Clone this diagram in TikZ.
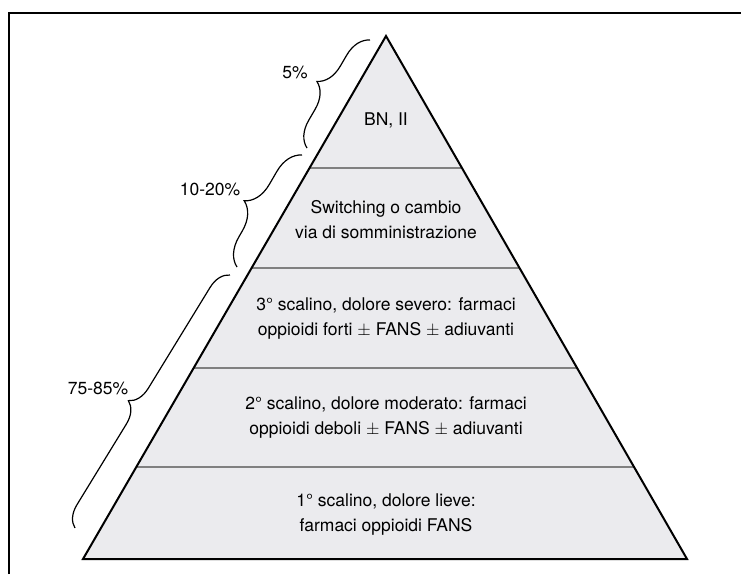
\documentclass[tikz,border=0pt]{standalone}
\usepackage{fontspec}
\setmainfont{TeX Gyre Heros}
\usetikzlibrary{positioning}
\usetikzlibrary{calc,decorations.pathreplacing}

\definecolor{pyrfill}{RGB}{235,235,238}

\begin{document}
\begin{tikzpicture}[x=1pt,y=-1pt]
		\useasboundingbox (0,0) rectangle (741,574);
		\fontsize{17.5}{25}\selectfont
		
		% frame
		\draw[line width=2.5pt] (9,574) -- (9,13) -- (741,13);
		
		\coordinate (top) at (386,36);
		\coordinate (bl) at (83,559);
		\coordinate (br) at (687,559);
		
		\fill[pyrfill] (bl) -- (top) -- (br) -- cycle;
		
		\draw[gray, line width=1.2pt] (309.5,168) -- (462,168);
		\draw[gray, line width=1.2pt] (251.6,268) -- (519.5,268);
		\draw[gray, line width=1.2pt] (193.7,368) -- (577.1,368);
		\draw[gray, line width=1.2pt] (136.3,467) -- (634,467);
		
		\draw[line width=2pt] (bl) -- (top) -- (br) -- cycle;
		
		\node[align=center] (bnii) at (386,120) {BN, II};
		\node[align=center] (switching) at (386,220) {Switching o cambio\\via di somministrazione};
		\node[align=center] (step3) at (386,318) {3° scalino, dolore severo: farmaci\\oppioidi forti $\pm$ FANS $\pm$ adiuvanti};
		\node[align=center] (step2) at (386,417) {2° scalino, dolore moderato: farmaci\\oppioidi deboli $\pm$ FANS $\pm$ adiuvanti};
		\node[align=center] (step1) at (386,515) {1° scalino, dolore lieve:\\farmaci oppioidi FANS};
		
		% braces
		\coordinate (b1s) at (307,148);
		\coordinate (b1e) at (370,40);
		\coordinate (b2s) at (237,267);
		\coordinate (b2e) at (302,155);
		\coordinate (b3s) at (75,528);
		\coordinate (b3e) at (230,275);
		
		\draw [line width=1.2pt,
		decoration={
			brace,
			amplitude=25pt
		},
		decorate
		] (b1s) -- (b1e);
		\node (p5) at (295,72) {5\%};
		
		\draw [line width=1.2pt,
		decoration={
			brace,
			amplitude=27pt,
			aspect=0.47
		},
		decorate
		] (b2s) -- (b2e);
		\node (p1020) at (210,189) {10-20\%};
		
		\draw [line width=1.2pt,
		decoration={
			brace,
			amplitude=21pt,
			aspect=0.46
		},
		decorate
		] (b3s) -- (b3e);
		\node (p7585) at (98,388) {75-85\%};
	\end{tikzpicture}
\end{document}
